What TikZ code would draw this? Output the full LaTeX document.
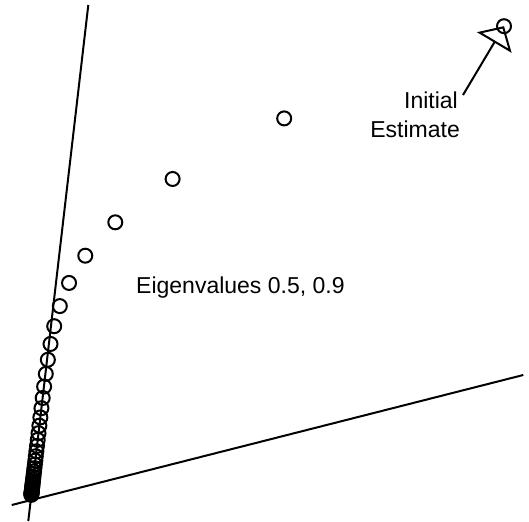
\documentclass[tikz,border=0pt]{standalone}
\usepackage{fontspec}
\setmainfont{Liberation Sans}
\usetikzlibrary{arrows.meta}
\begin{document}
\begin{tikzpicture}[x=1pt,y=-1pt,
  axis/.style={line width=2pt},
  iter/.style={circle,draw,line width=2pt,minimum size=14pt,inner sep=0pt},
  lbl/.style={font=\fontsize{23}{27}\selectfont,inner sep=0pt},
  pointer/.style={line width=2pt,-{Triangle[open,length=19pt,width=40pt]}}]
\useasboundingbox (0,0) rectangle (529,521);
\coordinate (s1) at (88.3,5);
\coordinate (s2) at (28.3,521);
\coordinate (h1) at (11.7,505);
\coordinate (h2) at (523.3,375);
\draw[axis] (s1) -- (s2);
\draw[axis] (h1) -- (h2);
\foreach \k in {0,...,40} {
  \pgfmathsetmacro\fa{0.9^\k}
  \pgfmathsetmacro\fb{0.5^\k}
  \pgfmathsetmacro\px{30.7+42.1*\fa+431.2*\fb}
  \pgfmathsetmacro\py{500.2-362*\fa-112*\fb}
  \node[iter] (p\k) at (\px,\py) {};
}
\node[lbl,anchor=base west] (eig) at (136,293.5) {Eigenvalues 0.5, 0.9};
\node[lbl,anchor=base east] (init1) at (458,108.5) {Initial};
\node[lbl,anchor=base east] (init2) at (460,138) {Estimate};
\coordinate (astart) at (463,95);
\draw[pointer] (astart) -- (p0.center);
\end{tikzpicture}
\end{document}
